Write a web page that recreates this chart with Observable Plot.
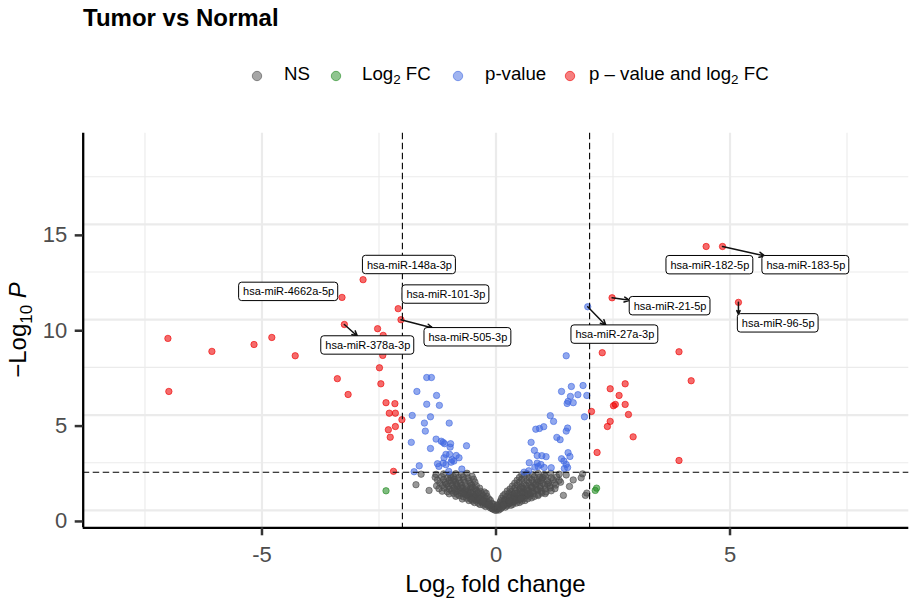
<!DOCTYPE html>
<html><head><meta charset="utf-8">
<script src="https://cdn.jsdelivr.net/npm/d3@7"></script>
<script src="https://cdn.jsdelivr.net/npm/@observablehq/plot@0.6"></script>
<style>
body{margin:0;background:#fff;font-family:"Liberation Sans",Arial,sans-serif;}
#wrap{position:relative;width:917px;height:601px;overflow:hidden;}
#head{position:relative;width:917px;height:100px;}
#title{position:absolute;left:83px;top:6px;font-size:24px;font-weight:bold;line-height:24px;color:#000;white-space:nowrap;}
.leg{position:absolute;top:65px;font-size:18.67px;line-height:18.67px;white-space:nowrap;color:#000;}
.key{position:absolute;top:68px;width:12px;height:12px;}
.leg sub{font-size:0.72em;vertical-align:-0.28em;line-height:0;}
</style></head>
<body><div id="wrap"><div id="head"><div id="title"></div></div><div id="chart"></div></div>
<script>
// ---------------- data ----------------
const title = "Tumor vs Normal";
const legendNames = ["NS", "Log2 FC", "p-value", "p - value and log2 FC"];
const legendColors = ["#4d4d4d", "#228b22", "#4169e1", "#ee0000"];

const xMajor = [-5, 0, 5];
const xMinor = [-7.5, -2.5, 2.5, 7.5];
const yMajor = [0, 5, 10, 15];
const yMinor = [2.5, 7.5, 12.5, 17.5];
const fcCutoff = [-2, 2];
const pCutoff = [2];

// [log2FC, -log10 P]
const nsPoints = [
[-0.04,0.03],[0.0,0.0],[0.03,0.06],[0.06,0.02],[-0.07,0.08],[0.01,0.1],
[-0.12,0.13],[-0.08,0.1],[-0.02,0.15],[0.05,0.12],[0.1,0.09],[0.13,0.16],
[-0.22,0.2],[-0.16,0.23],[-0.1,0.18],[-0.04,0.22],[0.02,0.25],[0.08,0.19],[0.15,0.22],[0.2,0.17],[0.24,0.24],
[-0.34,0.31],[-0.27,0.28],[-0.2,0.33],[-0.13,0.27],[-0.06,0.34],[0.04,0.3],[0.11,0.35],[0.18,0.29],[0.25,0.33],[0.32,0.27],[0.36,0.32],
[-0.46,0.41],[-0.38,0.38],[-0.31,0.44],[-0.24,0.39],[-0.17,0.42],[-0.09,0.37],[0.09,0.43],[0.16,0.38],[0.23,0.42],[0.3,0.4],[0.37,0.44],[0.44,0.39],[0.5,0.42],
[-0.58,0.52],[-0.5,0.49],[-0.43,0.54],[-0.35,0.5],[-0.27,0.55],[-0.2,0.48],[-0.12,0.53],[0.1,0.51],[0.18,0.55],[0.26,0.48],[0.34,0.53],[0.41,0.5],[0.48,0.54],[0.55,0.49],[0.62,0.52],
[-0.72,0.6],[-0.63,0.64],[-0.55,0.61],[-0.47,0.66],[-0.4,0.59],[-0.32,0.63],[-0.24,0.67],[-0.15,0.6],[0.12,0.64],[0.2,0.6],[0.28,0.65],[0.36,0.61],[0.44,0.66],[0.52,0.59],[0.6,0.63],[0.68,0.61],[0.76,0.66],
[-0.86,0.74],[-0.78,0.77],[-0.7,0.72],[-0.61,0.78],[-0.53,0.73],[-0.45,0.76],[-0.37,0.71],[-0.28,0.79],[-0.19,0.74],[0.15,0.77],[0.23,0.72],[0.32,0.78],[0.4,0.74],[0.48,0.76],[0.57,0.71],[0.65,0.79],[0.73,0.75],[0.82,0.73],[0.9,0.78],
[-1.0,0.87],[-0.91,0.9],[-0.83,0.85],[-0.74,0.91],[-0.66,0.86],[-0.58,0.89],[-0.49,0.84],[-0.4,0.92],[-0.3,0.87],[-0.21,0.9],[0.19,0.86],[0.28,0.91],[0.37,0.85],[0.46,0.9],[0.55,0.87],[0.63,0.92],[0.72,0.86],[0.8,0.89],[0.9,0.84],[0.98,0.91],[1.05,0.88],
[-1.15,1.01],[-1.04,0.98],[-0.95,1.03],[-0.86,0.99],[-0.77,1.04],[-0.68,0.97],[-0.6,1.02],[-0.5,0.99],[-0.42,1.05],[-0.33,1.0],[-0.25,0.97],[0.24,1.02],[0.33,0.98],[0.42,1.04],[0.52,1.0],[0.6,0.96],[0.7,1.03],[0.78,0.99],[0.88,1.05],[0.97,1.0],[1.07,0.97],[1.18,1.03],
[-1.22,1.14],[-1.1,1.17],[-1.0,1.12],[-0.9,1.18],[-0.81,1.13],[-0.72,1.16],[-0.63,1.11],[-0.54,1.19],[-0.45,1.14],[-0.35,1.17],[0.3,1.13],[0.4,1.18],[0.5,1.12],[0.58,1.16],[0.67,1.14],[0.76,1.19],[0.86,1.12],[0.95,1.17],[1.05,1.13],[1.16,1.18],[1.26,1.14],
[-1.27,1.29],[-1.14,1.32],[-1.02,1.27],[-0.93,1.33],[-0.83,1.28],[-0.73,1.31],[-0.63,1.26],[-0.52,1.34],[-0.42,1.3],[0.35,1.28],[0.45,1.33],[0.55,1.27],[0.64,1.32],[0.74,1.29],[0.84,1.34],[0.94,1.27],[1.04,1.31],[1.15,1.28],[1.28,1.33],
[-1.2,1.44],[-1.08,1.47],[-0.97,1.42],[-0.86,1.48],[-0.76,1.43],[-0.66,1.46],[-0.55,1.41],[-0.45,1.49],[0.4,1.43],[0.5,1.48],[0.6,1.42],[0.7,1.47],[0.8,1.44],[0.9,1.49],[1.0,1.42],[1.12,1.46],[1.25,1.43],[1.38,1.48],
[-1.25,1.59],[-1.12,1.62],[-1.0,1.57],[-0.89,1.63],[-0.79,1.58],[-0.69,1.61],[-0.58,1.56],[-0.48,1.64],[0.45,1.58],[0.55,1.63],[0.66,1.57],[0.76,1.62],[0.87,1.59],[0.98,1.64],[1.1,1.57],[1.22,1.61],[1.35,1.58],
[-1.3,1.74],[-1.16,1.77],[-1.03,1.72],[-0.91,1.78],[-0.8,1.73],[-0.7,1.76],[-0.6,1.71],[-0.51,1.79],[0.5,1.73],[0.6,1.78],[0.71,1.72],[0.82,1.77],[0.93,1.74],[1.05,1.79],[1.18,1.72],[1.3,1.76],
[-1.28,1.89],[-1.12,1.92],[-0.98,1.87],[-0.86,1.93],[-0.74,1.88],[-0.62,1.95],[0.55,1.88],[0.66,1.93],[0.78,1.87],[0.9,1.94],[1.03,1.89],[1.17,1.95],[1.35,1.9],[1.5,1.86],
[-0.3,0.45],[-0.42,0.6],[-0.5,0.7],[0.35,0.45],[0.45,0.58],[0.55,0.68],[-0.22,0.35],[0.28,0.38],[-0.62,0.82],[0.68,0.85],
[-0.35,0.62],[-0.44,0.82],[-0.55,0.95],[-0.66,1.07],[-0.76,1.22],[-0.85,1.38],[-0.92,1.55],[-0.96,1.72],
[0.38,0.66],[0.47,0.82],[0.57,0.96],[0.66,1.08],[0.77,1.24],[0.86,1.4],[0.95,1.56],[1.0,1.72],
[-0.28,0.5],[-0.16,0.31],[0.16,0.31],[0.28,0.52],[-0.52,0.58],[0.52,0.62],[-0.7,0.9],[0.74,0.93],
[-0.88,1.1],[0.9,1.09],[-1.06,1.38],[1.1,1.37],[-0.38,0.95],[0.4,0.9],[-0.5,1.22],[0.52,1.2],
[-1.71,1.35],[-1.43,1.05],[-1.6,1.9],[1.57,1.26],[1.44,0.79],[1.82,1.71],[1.85,1.92],[1.91,0.79],[1.94,0.91],[1.65,1.6]
];
const log2fcPoints = [[-2.35,1.03],[2.12,1.05],[2.15,1.17]];
const pvaluePoints = [
[-1.48,6.97],[-1.38,6.97],[-1.69,6.24],[-1.27,6.03],[-1.48,5.57],[-1.21,5.51],[-1.79,4.98],[-1.40,4.91],
[-1.53,4.58],[-1.00,4.58],[-1.51,4.16],[-1.81,3.57],[-1.28,3.74],[-1.17,3.63],[-1.13,3.57],[-1.10,3.50],
[-0.97,3.50],[-0.98,3.32],[-0.63,3.39],[-1.40,3.25],[-1.07,2.94],[-0.99,2.94],[-0.85,2.88],[-0.79,2.76],
[-1.11,2.76],[-0.94,2.66],[-0.90,2.59],[-0.96,2.53],[-1.13,2.48],[-1.07,2.40],[-1.25,2.45],[-1.22,2.31],
[-1.64,2.34],[-1.75,2.03],[-0.73,2.17],[-1.01,2.05],
[1.50,8.11],[1.96,10.68],[1.40,6.24],[1.61,6.50],[1.86,6.55],[1.59,5.98],[1.75,6.07],[1.94,6.03],
[1.54,5.72],[1.65,5.65],[1.52,5.61],[1.89,4.91],[1.16,4.97],[1.23,4.67],[1.02,4.39],[0.93,4.30],
[0.85,4.26],[1.53,4.32],[1.50,4.16],[1.30,3.83],[1.37,3.71],[0.75,3.57],[0.82,3.15],[0.88,2.88],
[0.98,2.87],[1.07,2.82],[1.54,3.03],[1.58,2.83],[1.40,2.71],[1.45,2.59],[0.71,2.50],[0.88,2.48],
[0.96,2.41],[0.90,2.31],[0.83,2.27],[1.03,2.25],[1.18,2.24],[1.50,2.41],[1.53,2.25],[1.46,2.20],
[0.60,2.01],[0.70,2.08]
];
const bothPoints = [
[-7.01,9.02],[-6.99,6.24],[-6.07,8.34],[-5.17,8.70],[-4.79,9.07],[-4.29,8.11],[-3.39,6.91],[-3.16,6.08],
[-3.29,11.17],[-2.84,12.10],[-2.09,10.58],[-2.03,10.00],[-3.24,9.75],[-2.53,9.53],[-2.41,9.18],[-2.42,8.13],
[-2.49,7.48],[-2.46,6.64],[-2.35,5.65],[-2.16,5.60],[-2.28,5.10],[-2.15,5.10],[-2.01,4.76],[-2.30,4.23],
[-2.15,4.40],[-2.26,3.84],[-2.19,2.05],
[2.27,8.27],[3.91,8.32],[4.17,6.80],[2.76,6.64],[2.44,6.38],[2.63,6.03],[2.55,5.56],[2.51,5.49],
[2.76,5.56],[2.04,5.19],[2.83,5.03],[2.44,4.67],[2.38,4.40],[2.93,3.86],[2.16,3.04],[3.91,2.62],
[4.49,13.84],[4.84,13.84],[2.48,11.15],[5.18,10.91]
];

const labelGenes = ["hsa-miR-148a-3p","hsa-miR-4662a-5p","hsa-miR-101-3p","hsa-miR-505-3p","hsa-miR-378a-3p",
                    "hsa-miR-182-5p","hsa-miR-183-5p","hsa-miR-21-5p","hsa-miR-96-5p","hsa-miR-27a-3p"];
const labelFC = [-2.84,-3.29,-2.09,-2.03,-3.24,4.49,4.84,2.48,5.18,1.96];
const labelP  = [12.10,11.17,10.58,10.00,9.75,13.84,13.84,11.15,10.91,10.68];
// repelled label centres (data units)
const labelX = [-1.85,-4.43,-1.07,-0.60,-2.74,4.57,6.62,3.72,6.03,2.54];
const labelY = [12.87,11.46,11.32,9.08,8.65,12.86,12.86,10.71,9.81,9.22];

// ---------------- layout ----------------
const W = 917, H = 501, mL = 82.7, mR = 8.7, mT = 32.7, mB = 73.7;
const xDomain = [-8.82, 8.82], yDomain = [-0.91, 19.78];
const xs = d3.scaleLinear(xDomain, [mL, W - mR]);
const ys = d3.scaleLinear(yDomain, [H - mB, mT]);
const kx = (W - mL - mR) / (xDomain[1] - xDomain[0]);
const ky = (H - mT - mB) / (yDomain[1] - yDomain[0]);

// header
document.getElementById("title").textContent = title;
const head = document.getElementById("head");
const keyX = [257, 336, 458, 570], textX = [284, 362, 485, 589];
const legendHTML = ["NS", "Log<sub>2</sub> FC", "p-value", "p \u2013 value and log<sub>2</sub> FC"];
legendNames.forEach((n, i) => {
  const k = document.createElement("div");
  k.className = "key"; k.style.left = (keyX[i] - 6) + "px";
  k.innerHTML = `<svg width="12" height="12"><circle cx="6" cy="6" r="4.7" fill="${legendColors[i]}" fill-opacity="0.5" stroke="${legendColors[i]}" stroke-opacity="0.6" stroke-width="1"/></svg>`;
  head.appendChild(k);
  const t = document.createElement("div");
  t.className = "leg"; t.style.left = textX[i] + "px"; t.innerHTML = legendHTML[i];
  head.appendChild(t);
});

// rows
const rows = [];
[nsPoints, log2fcPoints, pvaluePoints, bothPoints].forEach((arr, c) =>
  arr.forEach(([x, y]) => rows.push({x, y, color: legendColors[c]})));

// labels
const ctx = document.createElement("canvas").getContext("2d");
ctx.font = '11px "Liberation Sans", Arial, sans-serif';
const labels = labelGenes.map((g, i) => {
  const w = ctx.measureText(g).width;
  const hw = w / 2 + 4, hh = 9.2;
  const cx = xs(labelX[i]), cy = ys(labelY[i]);
  const px = xs(labelFC[i]), py = ys(labelP[i]);
  const nx = Math.max(cx - hw, Math.min(px, cx + hw)), ny = Math.max(cy - hh, Math.min(py, cy + hh));
  const near = Math.hypot(px - nx, py - ny);
  let ex, ey;
  if (Math.abs(px - (cx - hw)) < 2 || Math.abs(px - (cx + hw)) < 2) { ex = nx; ey = ny; }
  else {
    const dx = cx - px, dy = cy - py;
    const t = Math.min(Math.abs(dx) > 1e-6 ? hw / Math.abs(dx) : 1e9, Math.abs(dy) > 1e-6 ? hh / Math.abs(dy) : 1e9);
    ex = cx - dx * t; ey = cy - dy * t;
  }
  return {
    gene: g, lx: labelX[i], ly: labelY[i], fc: labelFC[i], p: labelP[i],
    x1: labelX[i] - hw / kx, x2: labelX[i] + hw / kx, y1: labelY[i] - hh / ky, y2: labelY[i] + hh / ky,
    ex: xs.invert(ex), ey: ys.invert(ey), seg: near > 11.5
  };
});

const plot = Plot.plot({
  width: W, height: H,
  marginLeft: mL, marginRight: mR, marginTop: mT, marginBottom: mB,
  x: {domain: xDomain},
  y: {domain: yDomain},
  style: {fontFamily: '"Liberation Sans", Arial, sans-serif', background: "white", overflow: "visible"},
  marks: [
    Plot.ruleX(xMinor, {stroke: "#ebebeb", strokeWidth: 1.1}),
    Plot.ruleY(yMinor, {stroke: "#ebebeb", strokeWidth: 1.1}),
    Plot.ruleX(xMajor, {stroke: "#ebebeb", strokeWidth: 2.2}),
    Plot.ruleY(yMajor, {stroke: "#ebebeb", strokeWidth: 2.2}),
    Plot.dot(rows, {x: "x", y: "y", r: 3.2, fill: "color", fillOpacity: 0.58, stroke: "color", strokeOpacity: 0.6, strokeWidth: 1}),
    Plot.ruleX(fcCutoff, {stroke: "#000", strokeWidth: 1.1, strokeDasharray: "6.5,3.5"}),
    Plot.ruleY(pCutoff, {stroke: "#000", strokeWidth: 1.1, strokeDasharray: "6.5,3.5"}),
    Plot.arrow(labels.filter(d => d.seg), {x1: "fc", y1: "p", x2: "ex", y2: "ey", stroke: "#111", strokeWidth: 1.5, headLength: 6, headAngle: 50}),
    Plot.rect(labels, {x1: "x1", x2: "x2", y1: "y1", y2: "y2", fill: "white", stroke: "#000", strokeWidth: 1, rx: 3}),
    Plot.text(labels, {x: "lx", y: "ly", text: "gene", fontSize: 11, fill: "#000"}),
    Plot.ruleX([xDomain[0]], {stroke: "#000", strokeWidth: 2.3}),
    Plot.ruleY([yDomain[0]], {stroke: "#000", strokeWidth: 2.3}),
    Plot.axisX(xMajor, {tickSize: 8, tickPadding: 11, fontSize: 22, label: null, stroke: "#333", strokeWidth: 2.5, tickFormat: d => String(d)}),
    Plot.axisY(yMajor, {tickSize: 8, tickPadding: 8, fontSize: 22, label: null, stroke: "#333", strokeWidth: 2.5, dy: 11, tickFormat: d => String(d)})
  ]
});

const svg = d3.select(plot);
svg.selectAll('[aria-label$="tick label"]').attr("fill", "#4d4d4d").selectAll("text").attr("fill", "#4d4d4d");
// axis titles
const xt = svg.append("text").attr("x", (mL + W - mR) / 2).attr("y", 491.7).attr("text-anchor", "middle")
  .attr("font-size", 24).attr("fill", "#000");
xt.append("tspan").text("Log");
xt.append("tspan").attr("font-size", 17).attr("dy", 6).text("2");
xt.append("tspan").attr("dy", -6).text(" fold change");
const yt = svg.append("text").attr("transform", `translate(25.5,${(mT + H - mB) / 2}) rotate(-90)`)
  .attr("text-anchor", "middle").attr("font-size", 24).attr("fill", "#000");
yt.append("tspan").text("\u2212Log");
yt.append("tspan").attr("font-size", 17).attr("dy", 6).text("10");
yt.append("tspan").attr("dy", -6).text(" ");
yt.append("tspan").attr("font-style", "italic").text("P");

document.getElementById("chart").appendChild(plot);
</script></body></html>
